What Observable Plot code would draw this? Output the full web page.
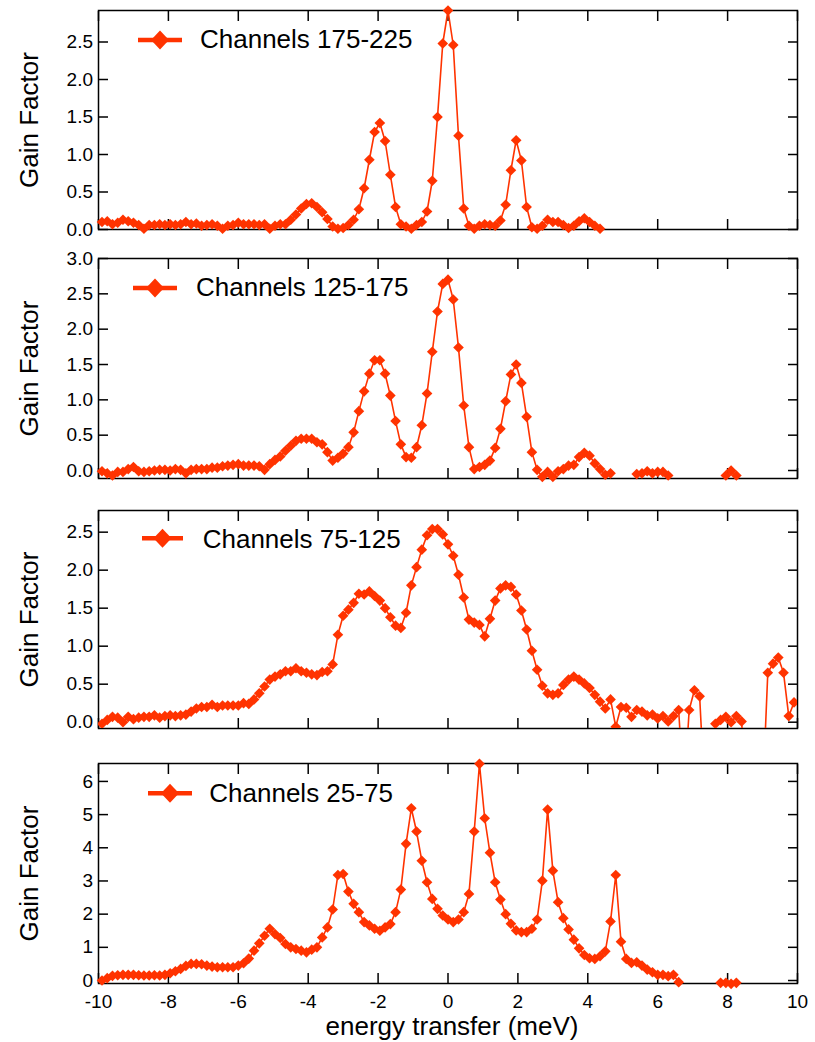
<!DOCTYPE html>
<html><head><meta charset="utf-8">
<script src="https://cdn.jsdelivr.net/npm/d3@7"></script>
<script src="https://cdn.jsdelivr.net/npm/@observablehq/plot@0.6"></script>
<style>
html,body{margin:0;padding:0;background:#fff;}
#chart{position:relative;width:815px;height:1042px;overflow:hidden;}
#chart > svg{position:absolute;left:0;}
</style></head><body><div id="chart"></div>
<script>
// energy transfer (meV) grid shared by the four channel groups
const energies = [
-9.9,-9.75,-9.6,-9.45,-9.3,-9.15,-9,-8.85,-8.7,-8.55,
-8.4,-8.25,-8.1,-7.95,-7.8,-7.65,-7.5,-7.35,-7.2,-7.05,
-6.9,-6.75,-6.6,-6.45,-6.3,-6.15,-6,-5.85,-5.7,-5.55,
-5.4,-5.25,-5.1,-4.95,-4.8,-4.65,-4.5,-4.35,-4.2,-4.05,
-3.9,-3.75,-3.6,-3.45,-3.3,-3.15,-3,-2.85,-2.7,-2.55,
-2.4,-2.25,-2.1,-1.95,-1.8,-1.65,-1.5,-1.35,-1.2,-1.05,
-0.9,-0.75,-0.6,-0.45,-0.3,-0.15,0,0.15,0.3,0.45,
0.6,0.75,0.9,1.05,1.2,1.35,1.5,1.65,1.8,1.95,
2.1,2.25,2.4,2.55,2.7,2.85,3,3.15,3.3,3.45,
3.6,3.75,3.9,4.05,4.2,4.35,4.5,4.65,4.8,4.95,
5.1,5.25,5.4,5.55,5.7,5.85,6,6.15,6.3,6.45,
6.6,6.75,6.9,7.05,7.2,7.35,7.5,7.65,7.8,7.95,
8.1,8.25,8.4,8.55,8.7,8.85,9,9.15,9.3,9.45,
9.6,9.75,9.9];

const gain175_225 = [
0.10,0.11,0.07,0.09,0.13,0.11,0.09,0.06,0.01,0.06,
0.06,0.07,0.06,0.07,0.06,0.07,0.10,0.07,0.08,0.05,
0.06,0.07,0.05,0.01,0.05,0.06,0.09,0.07,0.07,0.07,
0.06,0.07,0.01,0.05,0.07,0.07,0.13,0.20,0.28,0.34,
0.35,0.30,0.23,0.14,0.04,0.01,0.02,0.06,0.13,0.27,
0.55,0.93,1.30,1.42,1.18,0.73,0.30,0.07,0.04,0.01,
0.06,0.10,0.24,0.65,1.50,2.48,2.92,2.46,1.25,0.28,
0.05,0.01,0.05,0.07,0.06,0.05,0.12,0.33,0.79,1.19,
0.92,0.30,0.03,0.01,0.05,0.13,0.10,0.10,0.06,0.02,
0.05,0.11,0.15,0.10,0.05,0.01,null,null,null,null,
null,null,null,null,null,null,null,null,null,null,
null,null,null,null,null,null,null,null,null,null,
null,null,null,null,null,null,null,null,null,null,
null,null,null];

const gain125_175 = [
-0.01,-0.04,-0.07,-0.02,-0.02,0.02,0.05,-0.01,-0.02,-0.01,
0.00,0.01,0.01,0.00,0.02,0.01,-0.04,0.01,0.02,0.02,
0.02,0.04,0.04,0.06,0.07,0.08,0.09,0.07,0.07,0.07,
0.06,0.01,0.09,0.15,0.20,0.28,0.35,0.42,0.45,0.45,
0.45,0.40,0.37,0.26,0.14,0.18,0.24,0.33,0.54,0.84,
1.12,1.37,1.56,1.56,1.37,1.06,0.70,0.37,0.19,0.18,
0.33,0.64,1.09,1.68,2.25,2.64,2.70,2.42,1.74,0.92,
0.33,0.02,0.05,0.08,0.14,0.32,0.59,0.98,1.36,1.50,
1.24,0.76,0.26,0.01,-0.09,-0.02,-0.09,-0.01,0.02,0.07,
0.08,0.19,0.25,0.21,0.10,0.02,-0.06,-0.04,null,null,
null,null,-0.05,-0.04,-0.01,-0.04,-0.02,-0.02,-0.07,null,
null,null,null,null,null,null,null,null,null,-0.07,
0.00,-0.07,null,null,null,null,null,null,null,null,
null,null,null];

const gain75_125 = [
-0.02,0.03,0.07,0.06,0.00,0.07,0.04,0.06,0.07,0.07,
0.09,0.06,0.08,0.09,0.08,0.09,0.10,0.14,0.18,0.20,
0.20,0.23,0.20,0.22,0.22,0.22,0.22,0.25,0.24,0.30,
0.38,0.47,0.56,0.60,0.63,0.67,0.67,0.71,0.67,0.65,
0.63,0.62,0.66,0.67,0.76,1.15,1.40,1.48,1.57,1.69,
1.68,1.72,1.66,1.60,1.50,1.38,1.27,1.24,1.44,1.80,
2.04,2.27,2.46,2.54,2.54,2.47,2.34,2.19,1.94,1.64,
1.35,1.31,1.28,1.13,1.36,1.60,1.76,1.80,1.78,1.68,
1.47,1.22,0.94,0.69,0.48,0.38,0.36,0.38,0.49,0.56,
0.60,0.56,0.51,0.45,0.36,0.27,0.18,0.30,-0.06,0.20,
0.19,0.07,0.16,0.14,0.09,0.10,0.05,0.08,0.01,0.08,
0.16,-1.0,0.16,0.42,0.34,-1.0,-1.0,-0.02,0.03,0.07,
0.00,0.08,0.01,-1.0,-1.0,-1.0,-1.0,0.65,0.77,0.85,
0.65,0.08,0.26];

const gain25_75 = [
0.00,0.07,0.14,0.16,0.17,0.17,0.17,0.16,0.15,0.15,
0.16,0.15,0.17,0.22,0.28,0.35,0.44,0.50,0.50,0.49,
0.45,0.42,0.40,0.40,0.40,0.40,0.45,0.52,0.66,0.90,
1.12,1.35,1.56,1.40,1.28,1.10,1.00,0.95,0.90,0.85,
0.93,1.00,1.30,1.60,2.14,3.18,3.21,2.68,2.31,2.06,
1.76,1.66,1.56,1.50,1.60,1.70,2.06,2.74,4.12,5.19,
4.49,3.61,2.96,2.46,2.16,1.96,1.84,1.76,1.84,2.06,
2.61,4.49,6.53,4.89,3.85,2.96,2.44,2.00,1.71,1.51,
1.46,1.46,1.56,1.84,3.01,5.15,3.31,2.36,1.88,1.54,
1.23,0.97,0.77,0.67,0.65,0.73,0.88,1.78,3.18,1.17,
0.65,0.53,0.55,0.45,0.33,0.25,0.17,0.17,0.13,0.17,
-0.05,null,null,null,null,null,null,null,-0.07,-0.07,
-0.10,-0.07,null,null,null,null,null,null,null,null,
null,null,null];

const seriesNames = ["Channels 175-225", "Channels 125-175", "Channels 75-125", "Channels 25-75"];
const xTicks = [-10, -8, -6, -4, -2, 0, 2, 4, 6, 8, 10];
const yTicksA = [0, 0.5, 1, 1.5, 2, 2.5];
const yTicksB = [0, 0.5, 1, 1.5, 2, 2.5, 3];
const yTicksC = [0, 1, 2, 3, 4, 5, 6];
const xLabel = "energy transfer (meV)";
const yLabel = "Gain Factor";

const COLOR = "#ff3300";
const FONT = "'Liberation Sans', Arial, Helvetica, sans-serif";
const f1 = d3.format(".1f");
const f0 = d3.format("d");

const panels = [
  {values: gain175_225, name: seriesNames[0], domain: [0, 2.92], ticks: yTicksA, fmt: f1, top: 0, fh: 219, mb: 10, clip: false,
   lg: {x1: 138, x2: 182, y: 40, cx: 160, tx: 200, ty: 48}},
  {values: gain125_175, name: seriesNames[1], domain: [-0.113, 3.0], ticks: yTicksB, fmt: f1, top: 248, fh: 220, mb: 10, clip: false,
   lg: {x1: 133, x2: 177, y: 40, cx: 155, tx: 196, ty: 47.7}},
  {values: gain75_125, name: seriesNames[2], domain: [-0.083, 2.785], ticks: yTicksA, fmt: f1, top: 500, fh: 218, mb: 10, clip: "frame",
   lg: {x1: 142, x2: 183, y: 38.3, cx: 162.5, tx: 202.7, ty: 47.7}},
  {values: gain25_75, name: seriesNames[3], domain: [-0.09, 6.54], ticks: yTicksC, fmt: f0, top: 753, fh: 220, mb: 59, clip: false,
   lg: {x1: 148, x2: 192, y: 40.3, cx: 170, tx: 209.3, ty: 48.7}, last: true}
];

const chart = document.getElementById("chart");
const blank = () => "";

panels.forEach(p => {
  const rows = energies.map((e, i) => ({e, v: p.values[i]}));
  const marks = [
    Plot.frame({stroke: "#000", strokeWidth: 1.5}),
    Plot.axisX(xTicks, {anchor: "bottom", tickSize: -10, strokeWidth: 1.5, tickPadding: 21,
      fontSize: 19, tickFormat: p.last ? (d => String(d)) : blank, label: null}),
    Plot.axisX(xTicks, {anchor: "top", tickSize: -10, strokeWidth: 1.5, tickFormat: blank, label: null}),
    Plot.axisY(p.ticks, {anchor: "left", tickSize: -10, strokeWidth: 1.5, tickPadding: 15.5,
      fontSize: 19, tickFormat: p.fmt, label: null}),
    Plot.axisY(p.ticks, {anchor: "right", tickSize: -10, strokeWidth: 1.5, tickFormat: blank, label: null}),
    Plot.text([yLabel], {frameAnchor: "left", dx: -68.5, rotate: -90, fontSize: 26,
      textAnchor: "middle", lineAnchor: "middle", text: d => d}),
    Plot.line(rows, {x: "e", y: "v", stroke: COLOR, strokeWidth: 1.6, clip: p.clip}),
    Plot.dot(rows, {x: "e", y: "v", symbol: "diamond2", r: 4.8, fill: COLOR, stroke: "none", clip: p.clip})
  ];
  if (p.last) {
    marks.push(Plot.text([xLabel], {frameAnchor: "bottom", dx: 4, dy: 43, fontSize: 26,
      textAnchor: "middle", lineAnchor: "middle", text: d => d}));
  }
  const svg = Plot.plot({
    width: 815,
    height: 10 + p.fh + p.mb,
    marginLeft: 98, marginRight: 18, marginTop: 10, marginBottom: p.mb,
    x: {domain: [-10, 10]},
    y: {domain: p.domain},
    style: {fontFamily: FONT, fontSize: "19px", color: "#000", background: "transparent", overflow: "visible"},
    marks
  });
  svg.style.top = p.top + "px";
  const g = d3.select(svg).append("g").attr("class", "legend");
  g.append("line").attr("x1", p.lg.x1).attr("x2", p.lg.x2).attr("y1", p.lg.y).attr("y2", p.lg.y)
    .attr("stroke", COLOR).attr("stroke-width", 4.5);
  g.append("path").attr("d", "M0,-9.5L9,0L0,9.5L-9,0Z")
    .attr("transform", `translate(${p.lg.cx},${p.lg.y})`).attr("fill", COLOR);
  g.append("text").attr("x", p.lg.tx).attr("y", p.lg.ty).attr("font-size", 26)
    .attr("text-anchor", "start").attr("font-family", FONT).attr("fill", "#000").text(p.name);
  chart.appendChild(svg);
});
</script>
</body></html>
